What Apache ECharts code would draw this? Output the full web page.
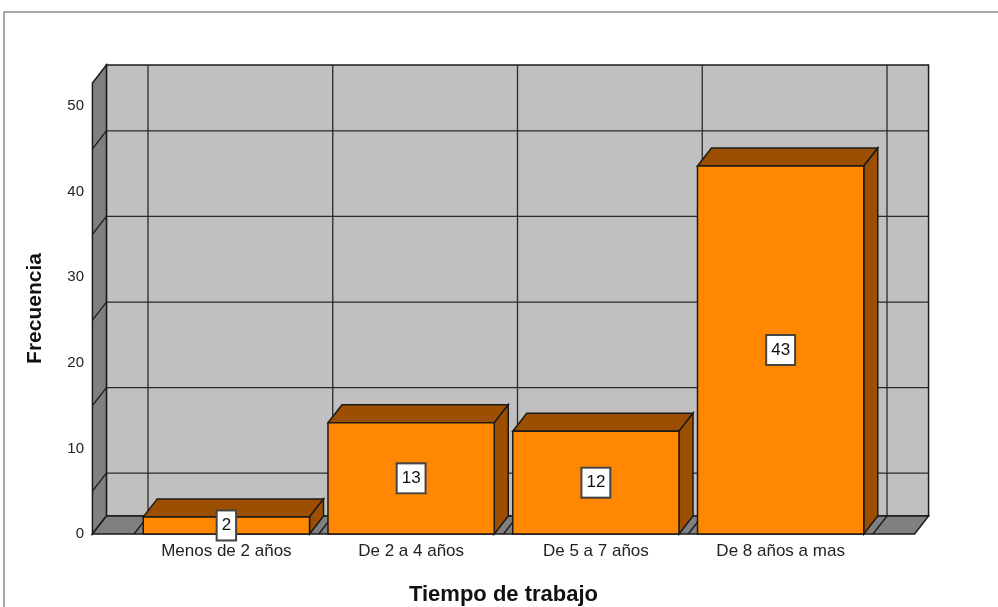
<!DOCTYPE html>
<html>
<head>
<meta charset="utf-8">
<script src="https://cdn.jsdelivr.net/npm/echarts@6/dist/echarts.min.js"></script>
<style>
html, body { margin: 0; padding: 0; background: #fff; }
#main { width: 998px; height: 607px; }
</style>
</head>
<body>
<div id="main"></div>
<script>
// datos del grafico
var categorias = ['Menos de 2 años', 'De 2 a 4 años', 'De 5 a 7 años', 'De 8 años a mas'];
var frecuencia = [2, 13, 12, 43];
var yTicks = [0, 10, 20, 30, 40, 50];
// lineas horizontales de la pared del fondo
var lineasFondo = [5, 15, 25, 35, 45];
var yTope = 52.7;

// profundidad del efecto 3D (pixeles)
var DX = 14, DY = -18;
var PAD = 0.225;        // margen de la caja en fracciones de banda
var ANCHO_BARRA = 0.9;
var LINEA = '#1a1a1a';
var FUENTE = '"Liberation Sans", Arial, sans-serif';

function renderCaja(params, api) {
	var banda = api.size([1, 0])[0];
	var n = categorias.length;
	var x0 = api.coord([0, 0])[0] - banda / 2 - PAD * banda;
	var x1 = api.coord([n - 1, 0])[0] + banda / 2 + PAD * banda;
	var yb = api.coord([0, 0])[1];
	var yt = api.coord([0, yTope])[1];
	var hijos = [];
	// pared del fondo
	hijos.push({
		type: 'rect',
		shape: { x: x0 + DX, y: yt + DY, width: x1 - x0, height: yb - yt },
		style: { fill: '#c0c0c0', stroke: LINEA, lineWidth: 1.5 }
	});
	// lineas horizontales del fondo
	lineasFondo.forEach(function (v) {
		var y = api.coord([0, v])[1];
		hijos.push({
			type: 'line',
			shape: { x1: x0 + DX, y1: y + DY, x2: x1 + DX, y2: y + DY },
			style: { stroke: '#2a2a2a', lineWidth: 1.3 }
		});
	});
	// lineas verticales (limites de categoria)
	for (var i = 0; i <= n; i++) {
		var xb = (i < n ? api.coord([i, 0])[0] - banda / 2 : api.coord([n - 1, 0])[0] + banda / 2);
		hijos.push({
			type: 'line',
			shape: { x1: xb + DX, y1: yt + DY, x2: xb + DX, y2: yb + DY },
			style: { stroke: '#2a2a2a', lineWidth: 1.3 }
		});
	}
	// pared izquierda
	hijos.push({
		type: 'polygon',
		shape: { points: [[x0, yb], [x0, yt], [x0 + DX, yt + DY], [x0 + DX, yb + DY]] },
		style: { fill: '#808080', stroke: LINEA, lineWidth: 1.5 }
	});
	lineasFondo.forEach(function (v) {
		var y = api.coord([0, v])[1];
		hijos.push({
			type: 'line',
			shape: { x1: x0, y1: y, x2: x0 + DX, y2: y + DY },
			style: { stroke: LINEA, lineWidth: 1.3 }
		});
	});
	// piso y sus diagonales
	hijos.push({
		type: 'polygon',
		shape: { points: [[x0, yb], [x0 + DX, yb + DY], [x1 + DX, yb + DY], [x1, yb]] },
		style: { fill: '#808080', stroke: LINEA, lineWidth: 1.5 }
	});
	for (var j = 0; j <= n; j++) {
		var xf = (j < n ? api.coord([j, 0])[0] - banda / 2 : api.coord([n - 1, 0])[0] + banda / 2);
		hijos.push({
			type: 'line',
			shape: { x1: xf, y1: yb, x2: xf + DX, y2: yb + DY },
			style: { stroke: LINEA, lineWidth: 1.3 }
		});
	}
	return { type: 'group', children: hijos };
}

function renderBarra(params, api) {
	var idx = api.value(0);
	var val = api.value(1);
	var banda = api.size([1, 0])[0];
	var w = banda * ANCHO_BARRA;
	var base = api.coord([idx, 0]);
	var tope = api.coord([idx, val]);
	var xl = base[0] - w / 2, xr = base[0] + w / 2;
	var yb = base[1], yt = tope[1];
	return {
		type: 'group',
		children: [
			{
				type: 'polygon',
				shape: { points: [[xl, yt], [xl + DX, yt + DY], [xr + DX, yt + DY], [xr, yt]] },
				style: { fill: '#9c4f00', stroke: LINEA, lineWidth: 1.5 }
			},
			{
				type: 'polygon',
				shape: { points: [[xr, yt], [xr + DX, yt + DY], [xr + DX, yb + DY], [xr, yb]] },
				style: { fill: '#9c4f00', stroke: LINEA, lineWidth: 1.5 }
			},
			{
				type: 'rect',
				shape: { x: xl, y: yt, width: w, height: yb - yt },
				style: { fill: '#ff8800', stroke: LINEA, lineWidth: 1.5 }
			},
			{
				type: 'text',
				style: {
					text: String(val),
					x: base[0],
					y: (yt + yb) / 2,
					align: 'center',
					verticalAlign: 'middle',
					font: '17px ' + FUENTE,
					fill: '#111',
					backgroundColor: '#fff',
					borderColor: '#444',
					borderWidth: 2,
					padding: [6, 4, 5, 4]
				}
			}
		]
	};
}

var datosBarras = frecuencia.map(function (v, i) { return [i, v]; });

var chart = echarts.init(document.getElementById('main'));
chart.setOption({
	animation: false,
	graphic: [{
		type: 'rect',
		shape: { x: 4, y: 12, width: 1200, height: 800 },
		style: { fill: 'none', stroke: '#8c8c8c', lineWidth: 1.5 },
		z: -10
	}],
	grid: { left: 134, right: 125, top: 83, bottom: 73, outerBoundsMode: 'none', containLabel: false },
	xAxis: {
		type: 'category',
		data: categorias,
		axisLine: { show: false },
		axisTick: { show: false },
		axisLabel: { fontSize: 17, color: '#222', margin: 9, fontFamily: FUENTE },
		name: 'Tiempo de trabajo',
		nameLocation: 'middle',
		nameGap: 50,
		nameTextStyle: { fontSize: 22, fontWeight: 'bold', color: '#111', fontFamily: FUENTE }
	},
	yAxis: {
		type: 'value',
		min: 0,
		max: yTope,
		interval: 10,
		offset: 41,
		axisLine: { show: false },
		axisTick: { show: false },
		splitLine: { show: false },
		axisLabel: {
			fontSize: 15, color: '#222', margin: 9, fontFamily: FUENTE,
			padding: [4, 0, 0, 0],
			formatter: function (v) { return yTicks.indexOf(v) >= 0 ? String(v) : ''; }
		},
		name: 'Frecuencia',
		nameLocation: 'middle',
		nameGap: 47,
		nameTextStyle: { fontSize: 21, fontWeight: 'bold', color: '#111', fontFamily: FUENTE }
	},
	series: [
		{
			type: 'custom',
			renderItem: renderCaja,
			data: [[0, 0]],
			silent: true,
			z: 1
		},
		{
			type: 'custom',
			renderItem: renderBarra,
			data: datosBarras,
			encode: { x: 0, y: 1 },
			z: 2
		}
	]
});
</script>
</body>
</html>
